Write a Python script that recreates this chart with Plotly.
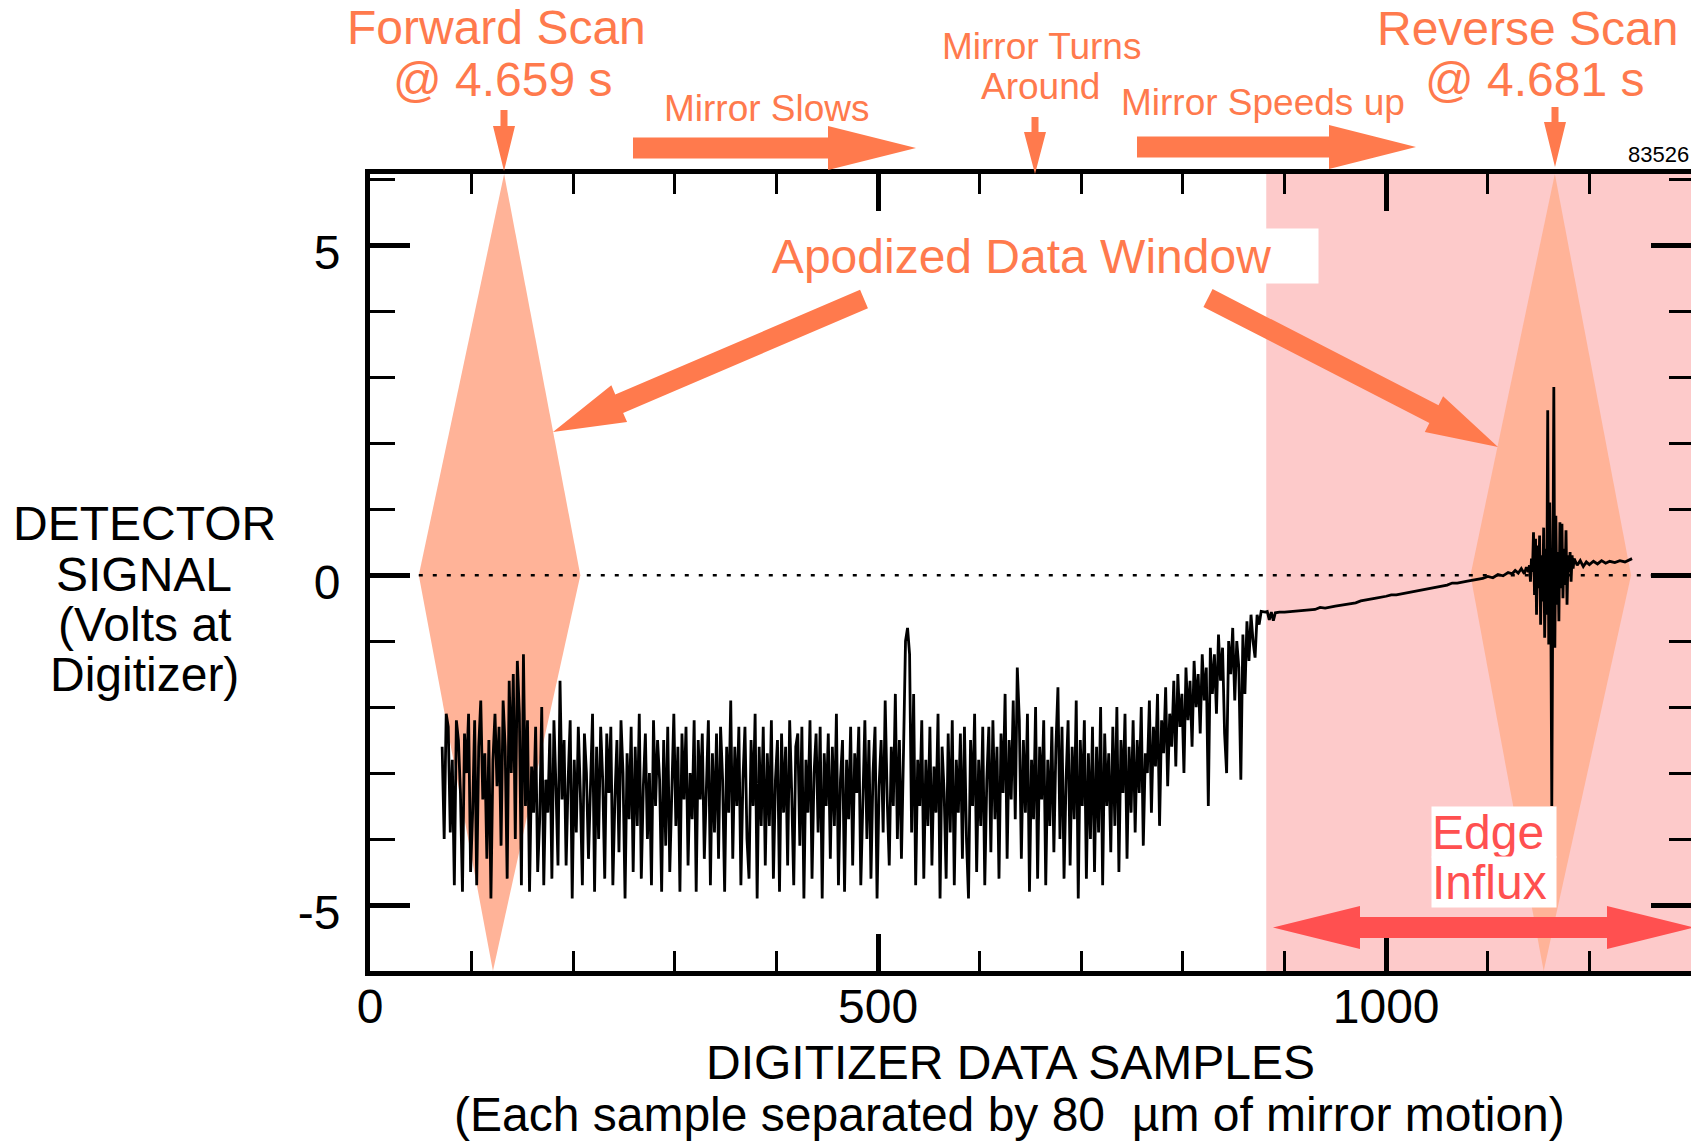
import math
import numpy as np
import plotly.graph_objects as go

# ---------------- data ----------------
# Detector signal, samples 71..879 (about every second sample), noisy forward part
noisy_signal = [
    -2.6, -4.0, -2.1, -2.3, -3.9, -2.8, -4.7, -2.2, -2.5, -3.3, -4.8, -2.4, -3.0, -2.1, -4.5, -3.6, -2.2, -4.7, -2.6, -1.9,
    -3.4, -2.7, -4.3, -2.5, -4.9, -2.8, -2.1, -3.2, -2.3, -4.1, -1.9, -2.6, -4.6, -1.6, -3.0, -1.5, -4.0, -1.3, -2.1, -4.7,
    -1.2, -3.5, -2.2, -4.8, -2.9, -3.6, -2.3, -4.5, -3.7, -2.0, -4.7, -3.1, -3.6, -2.4, -4.6, -2.2, -3.2, -4.4, -1.6, -3.4,
    -2.5, -4.4, -3.1, -2.2, -4.9, -2.8, -3.9, -2.3, -3.3, -4.7, -2.4, -3.0, -4.3, -3.2, -2.1, -4.8, -2.6, -4.0, -2.3, -3.1,
    -4.6, -2.4, -3.3, -2.3, -4.7, -3.4, -2.5, -4.2, -2.2, -3.0, -4.9, -2.7, -3.7, -2.3, -4.5, -2.6, -3.8, -2.1, -4.6, -3.2,
    -2.4, -4.0, -3.0, -4.7, -2.2, -3.5, -2.5, -3.1, -4.8, -2.5, -4.1, -2.3, -4.5, -3.3, -2.1, -3.8, -2.6, -4.8, -2.4, -3.4,
    -2.3, -4.4, -3.0, -3.7, -2.2, -4.8, -2.5, -3.4, -2.4, -4.3, -3.4, -2.2, -4.7, -2.7, -3.9, -2.4, -4.3, -2.3, -3.1, -4.8,
    -2.6, -3.6, -1.9, -4.3, -2.6, -3.5, -2.3, -4.7, -3.1, -2.3, -4.0, -4.6, -2.5, -3.5, -2.1, -4.9, -2.6, -3.8, -2.3, -4.4,
    -2.7, -3.8, -2.2, -4.6, -3.1, -2.5, -4.8, -2.4, -3.6, -2.6, -4.4, -2.2, -3.3, -4.7, -2.6, -2.4, -4.1, -2.3, -4.9, -2.8,
    -3.6, -2.2, -4.6, -3.0, -2.4, -3.9, -2.3, -4.9, -2.7, -3.5, -2.4, -4.3, -2.6, -3.8, -2.1, -4.7, -3.1, -2.5, -4.8, -2.8,
    -3.7, -2.3, -4.4, -2.7, -3.3, -2.3, -4.7, -3.5, -2.2, -4.0, -2.5, -4.6, -3.0, -2.3, -4.9, -3.2, -2.5, -3.9, -1.9, -3.4,
    -4.4, -2.6, -3.5, -1.8, -4.0, -2.5, -4.3, -2.7, -1.0, -0.8, -1.2, -3.9, -1.8, -4.7, -2.8, -3.5, -2.2, -4.6, -2.8, -3.8,
    -2.3, -4.4, -2.9, -3.6, -2.1, -4.9, -2.6, -3.3, -4.6, -2.4, -3.9, -2.2, -4.7, -2.8, -3.6, -2.4, -4.3, -2.3, -4.0, -4.9,
    -2.5, -3.5, -2.1, -4.5, -2.8, -3.8, -2.3, -4.7, -3.1, -2.3, -4.2, -2.2, -3.7, -2.6, -4.6, -2.4, -3.3, -1.8, -4.3, -2.5,
    -3.4, -1.9, -3.7, -1.4, -2.2, -4.3, -2.5, -3.6, -2.1, -4.8, -2.8, -3.7, -2.0, -4.6, -2.6, -3.4, -2.2, -4.7, -2.8, -3.8,
    -2.3, -4.2, -2.6, -1.7, -4.0, -2.3, -4.6, -3.1, -2.2, -4.4, -2.6, -3.7, -1.9, -4.9, -2.5, -3.5, -2.2, -4.6, -2.7, -4.0,
    -2.3, -4.5, -2.6, -3.9, -2.0, -4.7, -2.4, -3.5, -2.7, -4.2, -2.3, -3.8, -2.0, -4.5, -2.5, -3.3, -2.1, -4.3, -2.6, -3.6,
    -2.2, -3.9, -2.5, -3.3, -2.0, -4.1, -2.7, -3.0, -1.9, -3.6, -2.3, -2.9, -1.8, -3.8, -2.2, -2.7, -1.7, -3.2, -2.1, -2.6,
    -1.6, -2.9, -1.5, -2.3, -1.8, -3.0, -1.4, -2.2, -1.6, -2.6, -1.3, -2.0, -1.5, -2.4, -1.2, -1.9, -1.4, -3.5, -1.1, -1.8,
    -1.2, -2.1, -0.9, -1.6, -1.1, -2.4, -3.0, -1.0, -1.5, -0.8, -1.9, -1.0, -1.4, -3.1, -0.9, -1.8, -0.7, -1.3, -0.6, -1.0,
    -1.25, -0.6, -0.75, -0.55, -0.56,
]
noisy_first_sample, noisy_last_sample = 71, 879

# Slow turnaround, reverse-scan interferogram burst and tail
smooth_samples = [
    881, 883, 885, 887, 889, 891, 895, 900, 910, 920, 930, 935, 940, 950, 955, 960, 970, 975, 980, 990,
    1000, 1005, 1010, 1020, 1030, 1035, 1040, 1050, 1060, 1065, 1070, 1080, 1090, 1095, 1100, 1105, 1110,
    1115, 1120, 1124, 1127, 1130, 1133, 1136, 1138, 1140,
    1141, 1142, 1143, 1144, 1145, 1146, 1147, 1148, 1149, 1150, 1151, 1152, 1153, 1154, 1155, 1156, 1157,
    1158, 1159, 1160, 1161, 1162, 1163, 1164, 1165, 1166, 1167, 1168, 1169, 1170, 1171, 1172, 1173, 1174,
    1175, 1176, 1177, 1178, 1179, 1180, 1181, 1182, 1183, 1184, 1185,
    1188, 1191, 1194, 1197, 1200, 1204, 1208, 1212, 1216, 1220, 1225, 1230, 1235, 1240, 1242,
]
smooth_signal = [
    -0.56, -0.55, -0.68, -0.56, -0.69, -0.57, -0.56, -0.56, -0.55, -0.53, -0.52, -0.49, -0.50, -0.47, -0.46,
    -0.44, -0.42, -0.39, -0.38, -0.35, -0.32, -0.30, -0.30, -0.27, -0.23, -0.22, -0.21, -0.17, -0.15, -0.12,
    -0.12, -0.09, -0.06, -0.05, -0.02, -0.04, 0.01, -0.01, 0.04, 0.02, 0.07, 0.03, 0.10, 0.02, 0.12, 0.05,
    0.15, -0.10, 0.25, 0.05, 0.65, -0.30, 0.55, -0.60, 0.45, -0.20, 0.60, -0.75, 0.30, -0.40, 0.72, -0.95, 0.40,
    -0.60, 2.50, -1.05, 1.10, -0.40, -3.50, 0.20, 2.85, -1.10, 0.90, -0.45, 0.35, -0.70, 0.80, -0.20, 0.78, -0.35,
    0.40, -0.15, 0.68, -0.45, 0.30, 0.05, 0.35, -0.10, 0.30, 0.10, 0.25,
    0.15, 0.22, 0.13, 0.20, 0.16, 0.21, 0.17, 0.22, 0.18, 0.21, 0.19, 0.22, 0.20, 0.23, 0.25,
]

# Apodization windows (forward scan, reverse scan): sample positions of the vertices
window_left = [48, 1083]
window_right = [207, 1241]
window_peak = [132, 1166]
window_foot = [121, 1155]

edge_influx_start = 882          # first sample affected by the edge influx
zero_line_samples = [48, 1300]

x_ticks = [0, 500, 1000]
x_tick_text = ["0", "500", "1000"]
y_ticks = [-5, 0, 5]
y_tick_text = ["-5", "0", "5"]

# ---------------- styling / geometry ----------------
FONT = "Liberation Sans, Arial, Helvetica, sans-serif"
ORANGE = "#FF7A4D"
PEACH = "#FFB398"
PINK = "#FDCACA"
RED = "#FF5050"

FIG_W, FIG_H = 1691, 1141
M_L, M_R, M_T, M_B = 370, 0, 174, 170
PLOT_W = FIG_W - M_L - M_R
PLOT_H = FIG_H - M_T - M_B
X_RANGE = [0, 1300]
Y_RANGE = [-6.0, 6.08]


def to_paper(px, py):
    return (px - M_L) / PLOT_W, (FIG_H - M_B - py) / PLOT_H


def poly_path(points):
    pts = [to_paper(px, py) for px, py in points]
    return "M " + " L ".join(f"{x:.5f},{y:.5f}" for x, y in pts) + " Z"


def arrow_points(tail, tip, shaft_half, head_len, head_half):
    tx, ty = tail
    hx, hy = tip
    length = math.hypot(hx - tx, hy - ty)
    ux, uy = (hx - tx) / length, (hy - ty) / length
    nx, ny = -uy, ux
    bx, by = hx - ux * head_len, hy - uy * head_len
    return [
        (tx + nx * shaft_half, ty + ny * shaft_half),
        (bx + nx * shaft_half, by + ny * shaft_half),
        (bx + nx * head_half, by + ny * head_half),
        (hx, hy),
        (bx - nx * head_half, by - ny * head_half),
        (bx - nx * shaft_half, by - ny * shaft_half),
        (tx - nx * shaft_half, ty - ny * shaft_half),
    ]


def double_arrow_points(left_tip, right_tip, shaft_half, head_len, head_half):
    (lx, y), (rx, _) = left_tip, right_tip
    return [
        (lx, y),
        (lx + head_len, y - head_half),
        (lx + head_len, y - shaft_half),
        (rx - head_len, y - shaft_half),
        (rx - head_len, y - head_half),
        (rx, y),
        (rx - head_len, y + head_half),
        (rx - head_len, y + shaft_half),
        (lx + head_len, y + shaft_half),
        (lx + head_len, y + head_half),
    ]


def label(text, px, py, size, color, xanchor="center", **kw):
    x, y = to_paper(px, py)
    return dict(text=text, x=x, y=y, xref="paper", yref="paper", xanchor=xanchor,
                yanchor="middle", showarrow=False,
                font=dict(size=size, color=color, family=FONT), **kw)


# ---------------- traces ----------------
noisy_x = np.linspace(noisy_first_sample, noisy_last_sample, len(noisy_signal))
signal_x = list(noisy_x) + smooth_samples
signal_y = noisy_signal + smooth_signal

fig = go.Figure()
fig.add_trace(go.Scatter(
    x=zero_line_samples, y=[0, 0], mode="lines", yaxis="y2",
    line=dict(color="black", width=2.5, dash="4px,10px"), hoverinfo="skip"))
fig.add_trace(go.Scatter(
    x=signal_x, y=signal_y, mode="lines",
    line=dict(color="black", width=2.8), hoverinfo="skip"))

# ---------------- shapes ----------------
shapes = [dict(type="rect", xref="x", yref="paper", x0=edge_influx_start, x1=X_RANGE[1],
               y0=0, y1=1, fillcolor=PINK, line=dict(width=0), layer="below")]
for left, right, peak, foot in zip(window_left, window_right, window_peak, window_foot):
    shapes.append(dict(
        type="path", xref="x", yref="y", layer="below", fillcolor=PEACH, line=dict(width=0),
        path=f"M {left},0 L {peak},{Y_RANGE[1]} L {right},0 L {foot},{Y_RANGE[0]} Z"))

arrow_specs = [
    # (tail px, tip px, shaft half-width, head length, head half-width)
    ((633, 148), (916, 148), 10.5, 88, 22),      # mirror slows
    ((1137, 147), (1416, 147), 10.5, 87, 22),    # mirror speeds up
    ((504, 110), (504, 171), 3.5, 45, 11),       # forward scan
    ((1035, 117), (1035, 174), 3.5, 42, 11),     # mirror turns around
    ((1555, 107), (1555, 167), 3.5, 45, 11),     # reverse scan
    ((864, 299), (553, 432), 10, 72, 20),        # window -> forward diamond
    ((1208, 298), (1498, 447), 10, 72, 20),      # window -> reverse diamond
]
for tail, tip, sh, hl, hh in arrow_specs:
    shapes.append(dict(type="path", xref="paper", yref="paper", layer="above",
                       fillcolor=ORANGE, line=dict(width=0),
                       path=poly_path(arrow_points(tail, tip, sh, hl, hh))))
shapes.append(dict(type="path", xref="paper", yref="paper", layer="above",
                   fillcolor=RED, line=dict(width=0),
                   path=poly_path(double_arrow_points((1273, 927.5), (1694, 927.5), 10.5, 87, 21.5))))

# ---------------- annotations ----------------
annotations = [
    label("Forward Scan", 496, 28, 48, ORANGE),
    label("@ 4.659 s", 503, 79, 48, ORANGE),
    label("Mirror Slows", 767, 108, 37, ORANGE),
    label("Mirror Turns", 1041, 46, 37, ORANGE),
    label("Around", 1040, 86, 37, ORANGE),
    label("Mirror Speeds up", 1263, 103, 37, ORANGE),
    label("Reverse Scan", 1527, 29, 48, ORANGE),
    label("@ 4.681 s", 1535, 79, 48, ORANGE),
    label("Apodized Data Window", 1021.5, 256, 48, ORANGE,
          bgcolor="white", width=593, height=54, borderpad=0),
    label("Edge", 1431, 832, 48, RED, xanchor="left",
          bgcolor="white", width=124, height=50, borderpad=0, align="left"),
    label("Influx", 1431, 881.5, 48, RED, xanchor="left",
          bgcolor="white", width=124, height=50, borderpad=0, align="left"),
    label("83526", 1691, 154, 22, "black", xanchor="right"),
    label("DETECTOR", 144, 523, 48, "black"),
    label("SIGNAL", 144, 574, 48, "black"),
    label("(Volts at", 144, 624, 48, "black"),
    label("Digitizer)", 144, 674, 48, "black"),
    label("DIGITIZER DATA SAMPLES", 1010, 1062, 48, "black"),
    label("(Each sample separated by 80  \u00b5m of mirror motion)", 1009, 1114, 48, "black"),
]

# ---------------- axes ----------------
axis_common = dict(showgrid=False, zeroline=False, ticks="inside", tickcolor="black",
                   tickfont=dict(size=48, color="black", family=FONT))

fig.update_layout(
    width=FIG_W, height=FIG_H,
    margin=dict(l=M_L, r=M_R, t=M_T, b=M_B, pad=0),
    paper_bgcolor="white", plot_bgcolor="white",
    showlegend=False,
    font=dict(family=FONT),
    shapes=shapes,
    annotations=annotations,
    xaxis=dict(range=X_RANGE, tickvals=x_ticks, ticktext=x_tick_text,
               ticklen=37, tickwidth=4.5, showline=True, linecolor="black", linewidth=5,
               mirror="ticks", ticklabelstandoff=-11,
               minor=dict(dtick=100, tick0=0, ticks="inside", ticklen=20, tickwidth=2.5,
                          tickcolor="black"),
               **axis_common),
    yaxis=dict(range=Y_RANGE, tickvals=y_ticks, ticktext=y_tick_text,
               ticklen=40, tickwidth=5, showline=True, linecolor="black", linewidth=5,
               minor=dict(dtick=1, tick0=0, ticks="inside", ticklen=25, tickwidth=2.5,
                          tickcolor="black"),
               ticklabelshift=7, ticklabelstandoff=15,
               **axis_common),
    yaxis2=dict(range=Y_RANGE, overlaying="y", side="right", anchor="x",
                tickvals=y_ticks, showticklabels=False, showline=False,
                ticklen=40, tickwidth=5,
                minor=dict(dtick=1, tick0=0, ticks="inside", ticklen=22, tickwidth=2.5,
                           tickcolor="black"),
                showgrid=False, zeroline=False, ticks="inside", tickcolor="black"),
)

fig.write_html("out.html")
